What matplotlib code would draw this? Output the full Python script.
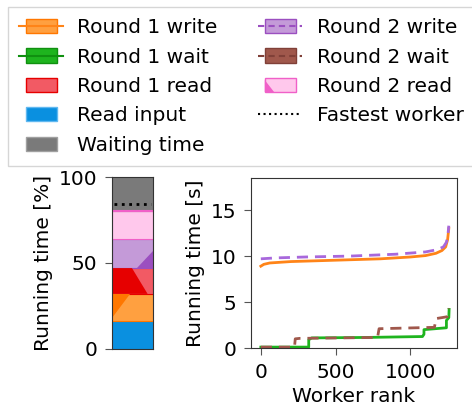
import numpy as np
import matplotlib.pyplot as plt
from matplotlib.patches import Patch, Polygon, Rectangle
from matplotlib.lines import Line2D
from matplotlib.legend_handler import HandlerPatch

plt.rcParams['font.family'] = 'DejaVu Sans'
plt.rcParams['font.size'] = 14.5
for k in ('xtick', 'ytick'):
    plt.rcParams[k + '.major.size'] = 5
    plt.rcParams[k + '.major.pad'] = 5.5
    plt.rcParams[k + '.color'] = '#555555'
    plt.rcParams[k + '.labelcolor'] = 'black'
plt.rcParams['axes.edgecolor'] = '#333333'

# #############################################################################
# Stacked share of running time [%], bottom to top
seg_names = ['Read input', 'Round 1 write', 'Round 1 read', 'Round 2 write',
             'Round 2 read', 'Waiting time']
seg_values = [16, 16, 15, 17, 16, 20]
fastest_pct = 84.5

# sorted per-worker times [s]
r1_write_x = [0, 20, 60, 200, 500, 800, 1000, 1100, 1170, 1210, 1235, 1248, 1256]
r1_write_y = [8.9, 9.1, 9.25, 9.4, 9.55, 9.7, 9.9, 10.05, 10.3, 10.6, 11.0, 11.8, 13.0]
r2_write_x = [0, 100, 300, 600, 900, 1100, 1180, 1220, 1240, 1250, 1256]
r2_write_y = [9.7, 9.8, 9.9, 10.0, 10.2, 10.45, 10.7, 11.0, 11.5, 12.3, 13.3]
r1_wait_x = [0, 320, 320, 340, 700, 1080, 1090, 1090, 1240, 1240, 1256, 1258]
r1_wait_y = [0.1, 0.1, 0.9, 1.1, 1.15, 1.25, 1.5, 2.0, 2.2, 3.0, 3.3, 4.2]
r2_wait_x = [0, 225, 230, 260, 780, 790, 1160, 1170, 1245, 1256]
r2_wait_y = [0.1, 0.1, 1.0, 1.05, 1.15, 2.1, 2.25, 3.2, 3.4, 4.3]

# #############################################################################
# colours
c_blue = '#0a90e0'
c_or_l, c_or_d = '#ffa040', '#ff7700'
c_red_l, c_red_d = '#f25a64', '#e60000'
c_pu_l, c_pu_d = '#c49ad8', '#9b4fc0'
c_pk_l, c_pk_d = '#ffc8ec', '#f060c8'
c_gray = '#7a7a7a'
c_line_or = '#ff8418'
c_line_pu = '#a868dc'
c_line_gr = '#1eb41e'
c_line_br = '#a0584c'

fig = plt.figure(figsize=(4.72, 4.08), dpi=100)
ax1 = fig.add_axes([0.237, 0.145, 0.087, 0.421])
ax2 = fig.add_axes([0.532, 0.147, 0.436, 0.417])

# #############################################################################
# left: stacked bar
fills = [c_blue, c_or_l, c_red_l, c_pu_l, c_pk_l, c_gray]
edges = [c_blue, c_or_d, c_red_d, c_pu_d, c_pk_d, c_gray]
bottoms = np.concatenate([[0], np.cumsum(seg_values)[:-1]])
ax1.bar(0, seg_values, bottom=bottoms, width=1, color=fills, edgecolor=edges,
        linewidth=0.8)

# darker parts (share of the fastest workers)
b = bottoms
ax1.add_patch(Polygon([(-0.5, b[1] + 2), (-0.5, b[2]), (-0.05, b[2])],
                      closed=True, color=c_or_d, lw=0))
ax1.add_patch(Polygon([(-0.5, b[2]), (-0.5, b[3]), (-0.01, b[3]), (0.37, b[2])],
                      closed=True, color=c_red_d, lw=0))
ax1.add_patch(Polygon([(0.12, b[3]), (0.5, b[3]), (0.5, b[3] + 10)],
                      closed=True, color=c_pu_d, lw=0))
ax1.axhline(b[5], color=c_pk_d, lw=1.5)
ax1.plot([-0.45, 0.45], [fastest_pct, fastest_pct], color='black', ls=':', lw=2)

ax1.set_xlim(-0.5, 0.5)
ax1.set_ylim(0, 100)
ax1.set_xticks([])
ax1.set_yticks([0, 50, 100])
ax1.set_ylabel('Running time [%]')

# #############################################################################
# right: per-worker running time
ax2.plot(r1_write_x, r1_write_y, color=c_line_or, lw=2)
ax2.plot(r2_write_x, r2_write_y, color=c_line_pu, lw=2, ls=(0, (4, 2.5)))
ax2.plot(r1_wait_x, r1_wait_y, color=c_line_gr, lw=2)
ax2.plot(r2_wait_x, r2_wait_y, color=c_line_br, lw=2, ls=(0, (4, 2.5)))
ax2.set_ylim(0, 18.5)
ax2.set_xlim(-65, 1310)
ax2.set_yticks([0, 5, 10, 15])
ax2.set_xticks([0, 500, 1000])
ax2.set_ylabel('Running time [s]')
ax2.set_xlabel('Worker rank')


# #############################################################################
# legend
class InsetHandler(HandlerPatch):
    # patch narrower than the handle box, optional dark corner triangle
    def __init__(self, tri_color=None, **kw):
        self.tri_color = tri_color
        super().__init__(**kw)

    def create_artists(self, legend, orig_handle, xdescent, ydescent,
                       width, height, fontsize, trans):
        x0, y0 = -xdescent + width * 0.15, -ydescent
        w = width * 0.7
        rect = Rectangle((x0, y0), w, height)
        self.update_prop(rect, orig_handle, legend)
        rect.set_transform(trans)
        arts = [rect]
        if self.tri_color is not None:
            tri = Polygon([(x0, y0), (x0, y0 + height * 0.85), (x0 + w * 0.3, y0)],
                          closed=True, color=self.tri_color, lw=0)
            tri.set_transform(trans)
            arts.append(tri)
        return arts


h_r1w = (Patch(facecolor=c_or_l, edgecolor=c_or_d),
         Line2D([], [], color=c_line_or, lw=1.5))
h_r1wait = (Patch(facecolor=c_line_gr, edgecolor='#109010'),
            Line2D([], [], color='#109010', lw=1.5))
h_r1r = Patch(facecolor=c_red_l, edgecolor=c_red_d)
h_in = Patch(facecolor=c_blue, edgecolor='#60b8f0')
h_wt = Patch(facecolor=c_gray, edgecolor='#a0a0a0')
h_r2w = (Patch(facecolor=c_pu_l, edgecolor=c_pu_d),
         Line2D([], [], color=c_pu_d, lw=1.5, ls=(0, (3, 2))))
h_r2wait = (Patch(facecolor=c_line_br, edgecolor='#804038'),
            Line2D([], [], color='#804038', lw=1.5, ls=(0, (3, 2))))
h_r2r = Patch(facecolor=c_pk_l, edgecolor=c_pk_d)
h_fast = Line2D([], [], color='black', ls=':', lw=1.5)

handles = [h_r1w, h_r1wait, h_r1r, h_in, h_wt,
           h_r2w, h_r2wait, h_r2r, h_fast]
labels = ['Round 1 write', 'Round 1 wait', 'Round 1 read', 'Read input',
          'Waiting time', 'Round 2 write', 'Round 2 wait', 'Round 2 read',
          'Fastest worker']
hmap = {Patch: InsetHandler(), h_r2r: InsetHandler(c_pk_d)}
fig.legend(handles, labels, ncol=2, loc='upper left',
           bbox_to_anchor=(8 / 472, 1 - 7 / 408), borderaxespad=0,
           borderpad=0.55, labelspacing=0.52, handletextpad=0.7,
           columnspacing=2.0, handlelength=2.2, fancybox=False,
           handler_map=hmap)

plt.savefig('out.png', dpi=100)
